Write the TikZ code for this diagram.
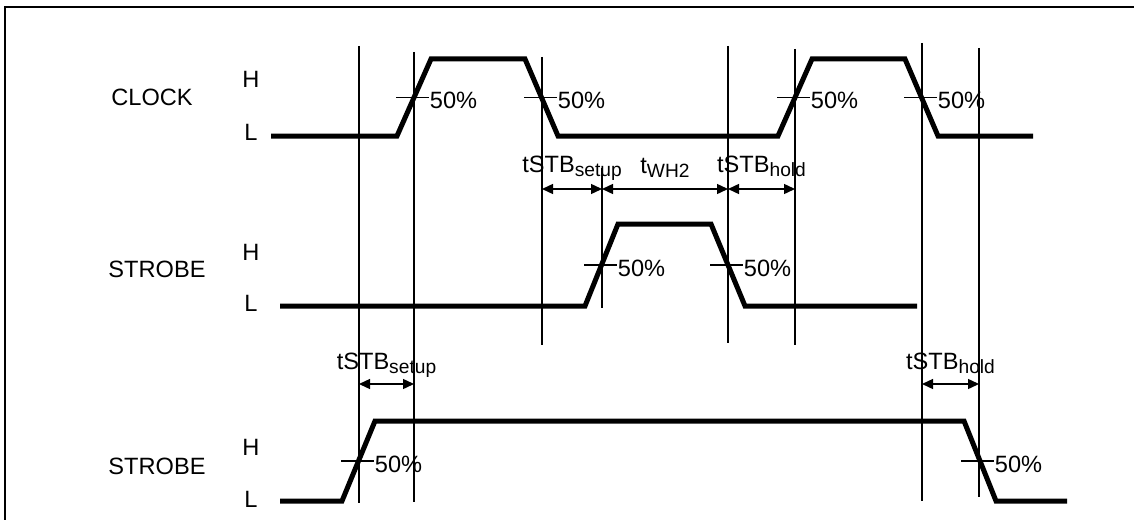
\documentclass[tikz,border=0pt]{standalone}
\usepackage{fontspec}
\setmainfont{Liberation Sans}
\usetikzlibrary{arrows.meta}
\newcommand{\lowtxt}[1]{\raisebox{-0.4ex}{\fontsize{9.6}{10}\selectfont #1}}

\begin{document}
\begin{tikzpicture}[x=0.5pt,y=-0.5pt]
    \tikzstyle{wave}=[line width=2.5pt,line join=miter]
    \tikzstyle{guide}=[line width=0.7pt]
    \tikzstyle{lbl}=[font=\fontsize{11.8}{13}\selectfont,inner sep=0pt]
    \tikzstyle{tick}=[line width=0.9pt]
    \tikzstyle{span}=[guide,{Triangle[length=5.5pt,width=5pt]}-{Triangle[length=5.5pt,width=5pt]}]

    \useasboundingbox (0,0) rectangle (1134,519);
    \draw[line width=1pt] (5,530) -- (5,7) -- (1145,7);

    % signal names and levels
    \node[lbl] (clock) at (152,97) {CLOCK};
    \node[lbl] (clockH) at (251,79) {H};
    \node[lbl] (clockL) at (251,132) {L};
    \node[lbl] (strobeA) at (157,269) {STROBE};
    \node[lbl] (strobeAH) at (251,252) {H};
    \node[lbl] (strobeAL) at (251,303) {L};
    \node[lbl] (strobeB) at (157,466) {STROBE};
    \node[lbl] (strobeBH) at (251,447) {H};
    \node[lbl] (strobeBL) at (251,499) {L};

    % guide lines
    \foreach \n/\x/\a/\b in {a/359/46/503, b/414/52/502, c/542/57/345, d/602/168/308,
                             e/728/46/343, f/795/49/345, g/922/43/501, h/979/48/497} {
        \coordinate (\n top) at (\x,\a);
        \coordinate (\n bot) at (\x,\b);
        \draw[guide] (\n top) -- (\n bot);
    }

    % waveforms
    \draw[wave] (271,136) -- (397,136) -- (431,59) -- (525,59) -- (558,136) -- (778,136)
        -- (812,59) -- (905,59) -- (938,136) -- (1033,136);
    \draw[wave] (280,306) -- (585,306) -- (618,224) -- (711,224) -- (745,306) -- (917,306);
    \draw[wave] (280,501) -- (342,501) -- (375,421) -- (964,421) -- (996,501) -- (1067,501);

    % 50% marks
    \foreach \x/\y in {414/97.5, 542/97.5, 795/97.5, 922/97.5, 602/265, 728/265, 359/461, 979/461} {
        \draw[tick] (\x-18,\y) -- (\x+15,\y) node[lbl,anchor=west,yshift=-1.5pt] (pct\x) {50\%};
    }

    % timing spans
    \draw[span] (ctop |- 0,189) -- node[lbl,anchor=base,yshift=8.5pt] (setupA) {tSTB\lowtxt{setup}} (dtop |- 0,189);
    \draw[span] (dtop |- 0,189) -- node[lbl,anchor=base,yshift=8pt] (widthA) {t\lowtxt{WH2}} (etop |- 0,189);
    \draw[span] (etop |- 0,189) -- node[lbl,anchor=base,yshift=8.5pt] (holdA) {tSTB\lowtxt{hold}} (ftop |- 0,189);
    \draw[span] (atop |- 0,384) -- node[lbl,anchor=base,yshift=7.5pt] (setupB) {tSTB\lowtxt{setup}} (btop |- 0,384);
    \draw[span] (gtop |- 0,384) -- node[lbl,anchor=base,yshift=7.5pt] (holdB) {tSTB\lowtxt{hold}} (htop |- 0,384);
\end{tikzpicture}
\end{document}
